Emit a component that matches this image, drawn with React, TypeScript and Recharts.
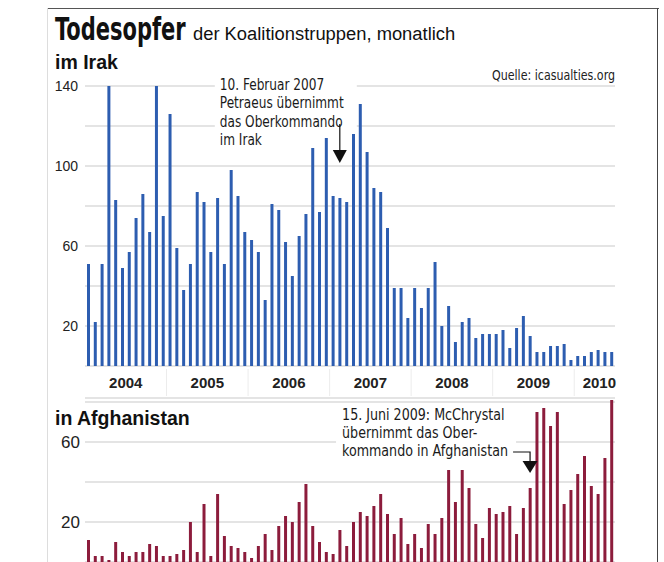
import React from 'react'
import { BarChart, Bar, XAxis, YAxis, CartesianGrid, ReferenceDot } from 'recharts'

const YEARS = ['2004', '2005', '2006', '2007', '2008', '2009', '2010']
const MONTH_NOS = ['01', '02', '03', '04', '05', '06', '07', '08', '09', '10', '11', '12']
// Jan 2004 .. Jun 2010
const MONTHS = YEARS.flatMap((y) => MONTH_NOS.map((m) => `${y}-${m}`)).slice(0, 78)

const IRAK = [
  51, 22, 51, 140, 83, 49, 57, 74, 86, 67, 140, 75,
  126, 59, 38, 51, 87, 82, 57, 84, 51, 98, 85, 67,
  63, 57, 33, 81, 78, 62, 45, 65, 76, 109, 77, 114,
  85, 84, 82, 116, 131, 107, 89, 87, 69, 39, 39, 24,
  39, 29, 39, 52, 20, 30, 12, 22, 24, 14, 16, 16,
  16, 18, 9, 19, 25, 15, 7, 7, 10, 10, 11, 3,
  5, 5, 7, 8, 7, 7,
]

const AFGHANISTAN = [
  11, 3, 3, 1, 10, 5, 3, 5, 5, 9, 8, 3,
  3, 4, 6, 20, 5, 29, 3, 34, 13, 8, 7, 5,
  2, 8, 14, 6, 18, 23, 20, 30, 39, 18, 10, 5,
  4, 16, 8, 20, 25, 23, 28, 34, 24, 14, 22, 9,
  14, 7, 19, 14, 22, 46, 30, 46, 37, 19, 12, 27,
  24, 25, 28, 14, 27, 37, 75, 77, 68, 75, 29, 36,
  44, 53, 38, 34, 52, 81,
]

const IRAK_TICKS = [20, 40, 60, 80, 100, 120, 140]
const IRAK_LABELS = [20, 60, 100, 140]
const AFG_TICKS = [20, 40, 60, 80]
const AFG_LABELS = [20, 60]

const PETRAEUS = ['10. Februar 2007', 'Petraeus übernimmt', 'das Oberkommando', 'im Irak']
const MCCHRYSTAL = ['15. Juni 2009: McChrystal', 'übernimmt das Ober-', 'kommando in Afghanistan']

const data = MONTHS.map((m, i) => ({ m, irak: IRAK[i], afg: AFGHANISTAN[i] }))

const NARROW = '"Liberation Sans Narrow", "DejaVu Sans Condensed", sans-serif'
const SANS = '"Liberation Sans", Arial, sans-serif'
const BLUE = '#2d5db0'
const RED = '#8c1c3c'
const GRID = '#c9c9c9'
const HALF = 3.4

function yTick(labels: number[], size: number) {
  // eslint-disable-next-line @typescript-eslint/no-explicit-any
  return (props: any) => {
    const v = props.payload.value
    if (!labels.includes(v)) return <g />
    return (
      <text x={props.x} y={props.y} textAnchor="end" dominantBaseline="central"
        fontFamily={SANS} fontSize={size} fill="#222">{v}</text>
    )
  }
}

// eslint-disable-next-line @typescript-eslint/no-explicit-any
function YearTick(props: any) {
  const { x, y, index } = props
  const items = []
  if (index % 12 === 0 && index > 0) {
    items.push(<line key="sep" x1={x - HALF} x2={x - HALF} y1={y + 3} y2={y + 30} stroke="#ececec" />)
  }
  if (index % 12 === 5 && index < 72) {
    items.push(
      <text key="t" x={x + HALF} y={y + 16} textAnchor="middle" dominantBaseline="central"
        fontFamily={SANS} fontWeight="bold" fontSize={15} fill="#222">{YEARS[Math.floor(index / 12)]}</text>
    )
  }
  if (index === 77) {
    items.push(
      <text key="t" x={x + HALF + 1} y={y + 16} textAnchor="end" dominantBaseline="central"
        fontFamily={SANS} fontWeight="bold" fontSize={15} fill="#222">{YEARS[6]}</text>
    )
  }
  return <g>{items}</g>
}

// eslint-disable-next-line @typescript-eslint/no-explicit-any
function PetraeusNote({ cx, cy }: any) {
  const left = cx - 120
  return (
    <g>
      <rect x={left - 5} y={cy - 88} width={142} height={56} fill="#fff" />
      <rect x={left - 5} y={cy - 33} width={50} height={18} fill="#fff" />
      <g transform={`translate(${left},0) scale(0.9,1)`}>
        {PETRAEUS.map((t, i) => (
          <text key={i} x={0} y={cy - 73 + i * 18.3} fontFamily={NARROW} fontSize={15} fill="#1a1a1a">{t}</text>
        ))}
      </g>
      <line x1={cx} x2={cx} y1={cy - 39} y2={cy - 13} stroke="#111" strokeWidth={1.2} />
      <polygon points={`${cx - 7},${cy - 13} ${cx + 7},${cy - 13} ${cx},${cy}`} fill="#111" />
    </g>
  )
}

// eslint-disable-next-line @typescript-eslint/no-explicit-any
function McChrystalNote({ cx, cy }: any) {
  const left = cx - 188
  return (
    <g>
      <rect x={left - 6} y={cy - 67} width={180} height={55} fill="#fff" />
      <g transform={`translate(${left},0) scale(0.94,1)`}>
        {MCCHRYSTAL.map((t, i) => (
          <text key={i} x={0} y={cy - 52.5 + i * 18} fontFamily={NARROW} fontSize={15} fill="#1a1a1a">{t}</text>
        ))}
      </g>
      <polyline points={`${cx - 17},${cy - 21} ${cx},${cy - 21} ${cx},${cy - 12}`} fill="none" stroke="#111" strokeWidth={1.2} />
      <polygon points={`${cx - 7.5},${cy - 12} ${cx + 7.5},${cy - 12} ${cx},${cy}`} fill="#111" />
    </g>
  )
}

export default function App() {
  return (
    <div style={{ position: 'absolute', left: 0, top: 0, width: 664, height: 562, background: '#fff', overflow: 'hidden' }}>
      <svg width={664} height={562} style={{ position: 'absolute', left: 0, top: 0 }}>
        <line x1={47} x2={659} y1={8.5} y2={8.5} stroke="#555" />
        <line x1={657.5} x2={657.5} y1={8} y2={562} stroke="#444" />
        <line x1={47.5} x2={47.5} y1={8} y2={562} stroke="#ddd" />
        <g transform="translate(55,40) scale(0.73,1)">
          <text x={0} y={0} fontFamily={NARROW} fontWeight="bold" fontSize={32} fill="#111">Todesopfer</text>
        </g>
        <g transform="translate(193,40) scale(1.02,1)">
          <text x={0} y={0} fontFamily={SANS} fontSize={18} fill="#111">der Koalitionstruppen, monatlich</text>
        </g>
        <text x={55} y={69} fontFamily={SANS} fontWeight="bold" fontSize={19.5} fill="#111">im Irak</text>
        <g transform="translate(615,80) scale(0.88,1)">
          <text x={0} y={0} textAnchor="end" fontFamily={NARROW} fontSize={14} fill="#222">Quelle: icasualties.org</text>
        </g>
        <text x={55} y={425} fontFamily={SANS} fontWeight="bold" fontSize={19.5} fill="#111">in Afghanistan</text>
      </svg>

      <div style={{ position: 'absolute', left: 0, top: 0 }}>
        <BarChart width={664} height={400} data={data} margin={{ top: 86, right: 49, bottom: 4, left: 0 }} barSize={3}>
          <CartesianGrid vertical={false} stroke={GRID} />
          <XAxis dataKey="m" height={30} interval={0} tickSize={0} tickMargin={0} axisLine={false} tickLine={false} tick={YearTick} />
          <YAxis domain={[0, 140]} ticks={IRAK_TICKS} width={85} tickSize={0} tickMargin={7}
            axisLine={false} tickLine={false} tick={yTick(IRAK_LABELS, 14)} />
          <Bar dataKey="irak" fill={BLUE} isAnimationActive={false} />
          <ReferenceDot x="2007-02" y={101.5} r={0} shape={PetraeusNote} />
        </BarChart>
      </div>

      <div style={{ position: 'absolute', left: 0, top: 390 }}>
        <BarChart width={664} height={172} data={data} margin={{ top: 8, right: 49, bottom: 0, left: 0 }} barSize={3}>
          <CartesianGrid vertical={false} stroke={GRID} />
          <XAxis dataKey="m" hide />
          <YAxis domain={[0, 82]} ticks={AFG_TICKS} width={85} tickSize={0} tickMargin={5}
            axisLine={false} tickLine={false} tick={yTick(AFG_LABELS, 17)} />
          <Bar dataKey="afg" fill={RED} isAnimationActive={false} />
          <ReferenceDot x="2009-06" y={44.5} r={0} shape={McChrystalNote} />
        </BarChart>
      </div>
    </div>
  )
}
